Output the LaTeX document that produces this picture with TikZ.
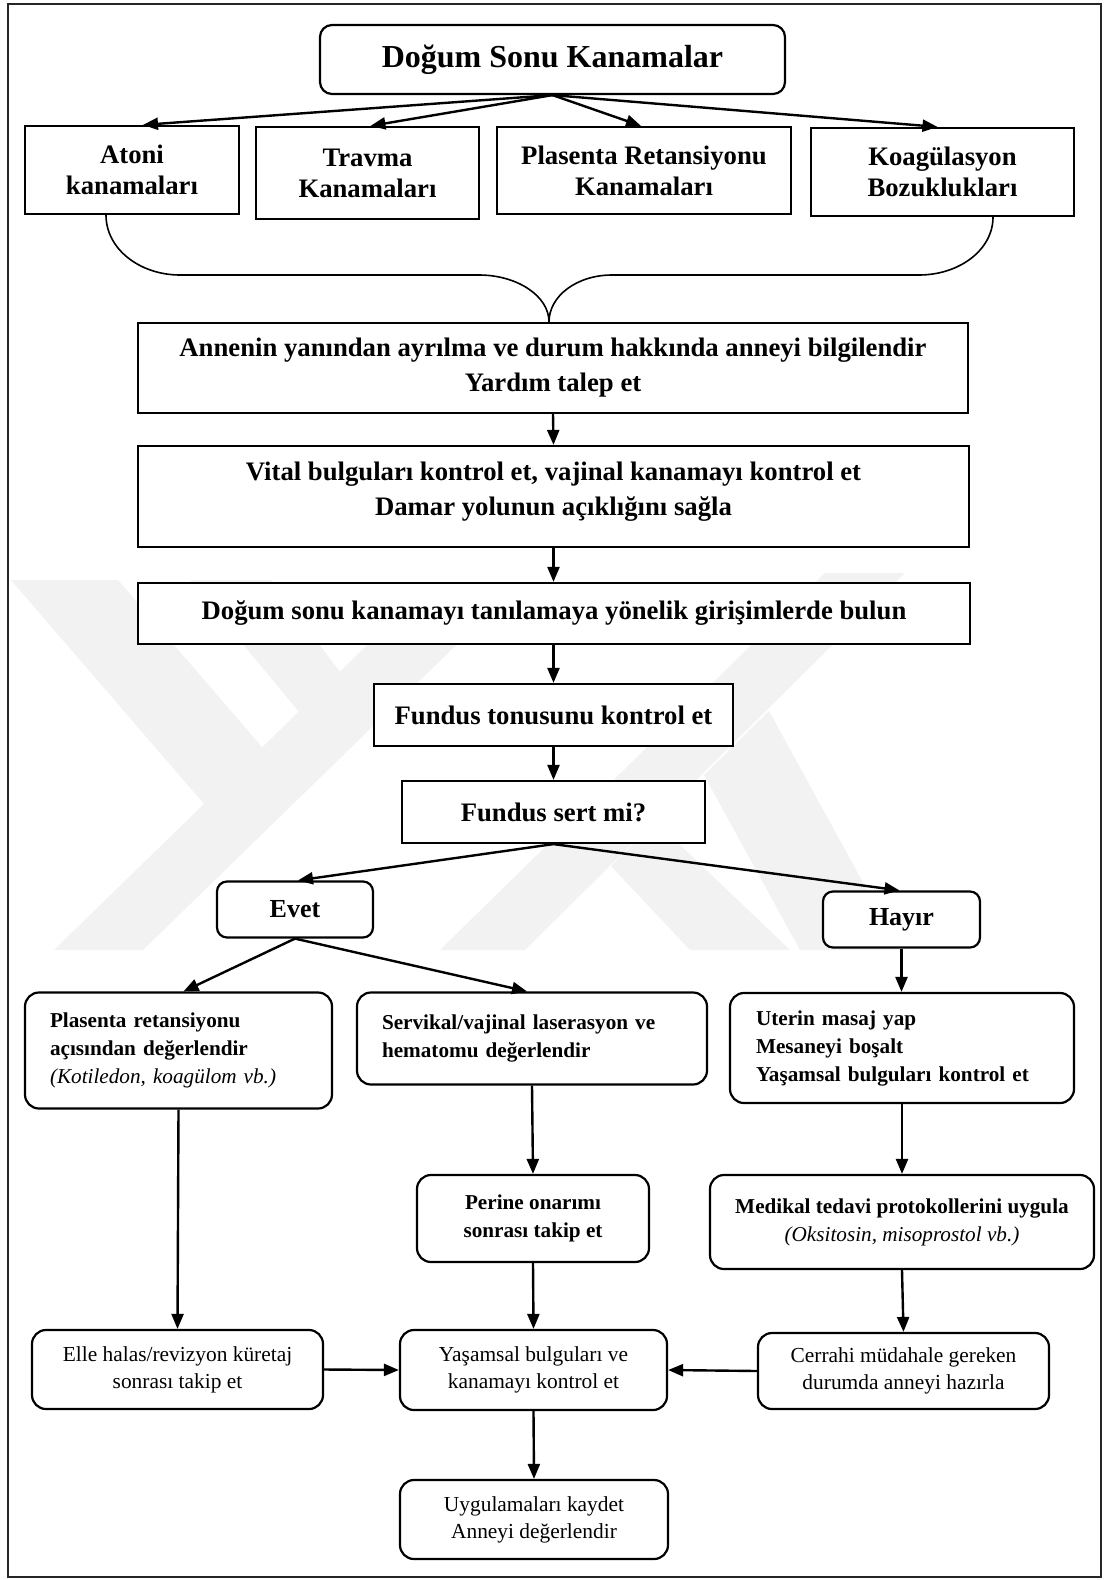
\documentclass[tikz,border=0pt]{standalone}
\usepackage{fontspec}
\setmainfont{Liberation Serif}
\usetikzlibrary{arrows.meta,calc}
\newcommand\FtTitle{\fontsize{32}{40}\selectfont\bfseries}
\newcommand\FtMain{\fontsize{26.7}{31}\selectfont\bfseries}
\newcommand\FtMainB{\fontsize{26.7}{35}\selectfont\bfseries}
\newcommand\FtYN{\fontsize{26}{31}\selectfont\bfseries}
\newcommand\FtSmall{\fontsize{21.2}{28}\selectfont\bfseries}
\newcommand\FtReg{\fontsize{21.4}{27}\selectfont}
\tikzset{
  box/.style={draw=black, fill=white, line width=2.2pt, inner sep=0pt, align=center},
  rbox/.style={box, rounded corners=14pt},
  ybox/.style={box, rounded corners=10pt},
  arr/.style={line width=2.4pt, -{Triangle[length=15pt,width=12pt]}},
  bracecurve/.style={line width=1.6pt},
  wmark/.style={fill=black!5, draw=none},
}
\begin{document}
\begin{tikzpicture}[x=1pt,y=-1pt]
\useasboundingbox (0,0) rectangle (1106,1580);
\fill[white] (0,0) rectangle (1106,1580);
% watermark (left figure)
\fill[wmark] (54,950) -- (143,950) -- (520,583) -- (431,583) -- cycle;
\fill[wmark] (11,580) -- (118,580) -- (262,747) -- (205,805) -- cycle;
\fill[wmark] (190,580) -- (271,580) -- (340,672) -- (299,712) -- cycle;
% watermark (right figure)
\fill[wmark] (440,950) -- (525,950) -- (905,573) -- (825,573) -- cycle;
\fill[wmark] (800,950) -- (900,950) -- (769,711) -- (704,775) -- cycle;
\fill[wmark] (690,950) -- (790,950) -- (656,822) -- (611,866) -- cycle;
% frame
\draw[line width=2pt, black!85] (8,4) rectangle (1101,1577);
% nodes
\node[box, rounded corners=12pt, minimum width=465pt, minimum height=69pt, font=\FtTitle] (top) at (552.5,59.5) {Doğum Sonu Kanamalar};
\node[box, minimum width=214pt, minimum height=88pt, font=\FtMain] (atoni) at (132,170) {Atoni\\kanamaları};
\node[box, minimum width=223pt, minimum height=92pt, font=\FtMain] (travma) at (367.5,173) {Travma\\Kanamaları};
\node[box, minimum width=294pt, minimum height=87pt, font=\FtMain] (plasenta) at (644,170.5) {Plasenta Retansiyonu\\Kanamaları};
\node[box, minimum width=263pt, minimum height=88pt, font=\FtMain] (koag) at (942.5,172) {Koagülasyon\\Bozuklukları};
\node[box, minimum width=830pt, minimum height=90pt, font=\FtMainB] (annenin) at (553,368) {Annenin yanından ayrılma ve durum hakkında anneyi bilgilendir\\Yardım talep et};
\node[box, minimum width=831pt, minimum height=101pt] (vital) at (553.5,496.5) {};
\node[font=\FtMainB, align=center] (vitaltxt) at ($(vital.center)+(0,-5)$) {Vital bulguları kontrol et, vajinal kanamayı kontrol et\\Damar yolunun açıklığını sağla};
\node[box, minimum width=832pt, minimum height=61pt, font=\FtMain] (dogum) at (554,613.5) {Doğum sonu kanamayı tanılamaya yönelik girişimlerde bulun};
\node[box, minimum width=359pt, minimum height=62pt, font=\FtMain] (ftonus) at (553.5,715) {Fundus tonusunu kontrol et};
\node[box, minimum width=303pt, minimum height=62pt, font=\FtMain] (fsert) at (553.5,812) {Fundus sert mi?};
\node[ybox, minimum width=156pt, minimum height=56pt, font=\FtYN] (evet) at (295,909.5) {Evet};
\node[ybox, minimum width=157pt, minimum height=56pt, font=\FtYN] (hayir) at (901.5,919.5) {Hayır};
\node[rbox, align=left, inner xsep=25pt, text width=257pt, minimum height=116pt, font=\FtSmall] (plret) at (178.5,1050.5) {Plasenta retansiyonu\\açısından değerlendir\\{\normalfont\itshape (Kotiledon, koagülom vb.)}};
\node[rbox, align=left, inner xsep=25pt, text width=300pt, minimum height=92pt, font=\FtSmall] (servikal) at (532,1038.5) {Servikal/vajinal laserasyon ve\\hematomu değerlendir};
\node[rbox, align=left, inner xsep=26pt, text width=292pt, minimum height=110pt, font=\FtSmall] (uterin) at (902,1048) {Uterin masaj yap\\Mesaneyi boşalt\\Yaşamsal bulguları kontrol et};
\node[rbox, minimum width=232pt, minimum height=87pt, font=\FtSmall] (perine) at (533,1218.5) {Perine onarımı\\sonrası takip et};
\node[rbox, minimum width=384pt, minimum height=94pt, font=\FtSmall] (medikal) at (902,1222) {Medikal tedavi protokollerini uygula\\{\normalfont\itshape (Oksitosin, misoprostol vb.)}};
\node[rbox, minimum width=291pt, minimum height=79pt, font=\FtReg] (elle) at (177.5,1369.5) {Elle halas/revizyon küretaj\\sonrası takip et};
\node[rbox, minimum width=267pt, minimum height=80pt, font=\FtReg] (yasam) at (533.5,1370) {Yaşamsal bulguları ve\\kanamayı kontrol et};
\node[rbox, minimum width=291pt, minimum height=76pt, font=\FtReg] (cerrahi) at (903.5,1371) {Cerrahi müdahale gereken\\durumda anneyi hazırla};
\node[rbox, minimum width=268pt, minimum height=79pt, font=\FtReg] (uygula) at (534,1519.5) {Uygulamaları kaydet\\Anneyi değerlendir};
% connectors top
\draw[arr] (top.south) -- ($(atoni.north)+(11,0)$);
\draw[arr] (top.south) -- ($(travma.north)+(3,0)$);
\draw[arr] (top.south) -- ($(plasenta.north)+(-3,0)$);
\draw[arr] (top.south) -- ($(koag.north)+(-5,0)$);
% brace curves
\draw[bracecurve] ($(atoni.south)+(-26,0)$) .. controls +(0,34) and +(-40,0) .. (180,275) -- (479,275) .. controls +(38,0) and +(0,-26) .. ($(annenin.north)+(-4,0)$);
\draw[bracecurve] ($(koag.south)+(50.5,0)$) .. controls +(0,33) and +(40,0) .. (919,275) -- (612,275) .. controls +(-35,0) and +(0,-26) .. ($(annenin.north)+(-4,0)$);
% main chain
\draw[arr] (annenin.south) -- (vital.north);
\draw[arr] (vital.south) -- (dogum.north -| vital.south);
\draw[arr] (dogum.south -| vital.south) -- (ftonus.north);
\draw[arr] (ftonus.south) -- (fsert.north);
\draw[arr] (fsert.south) -- ($(evet.north)+(3,0)$);
\draw[arr] (fsert.south) -- ($(hayir.north)+(-2,0)$);
\draw[arr] (evet.south) -- ($(plret.north)+(5,0)$);
\draw[arr] (evet.south) -- ($(servikal.north)+(-5,0)$);
\draw[arr] (hayir.south) -- (uterin.north -| hayir.south);
\draw[arr] (servikal.south) -- (perine.north);
\draw[arr] (uterin.south) -- (medikal.north);
\draw[arr] (plret.south) -- (elle.north);
\draw[arr] (perine.south) -- (yasam.north);
\draw[arr] (medikal.south) -- (cerrahi.north);
\draw[arr] (elle.east) -- (yasam.west);
\draw[arr] (cerrahi.west) -- (yasam.east);
\draw[arr] (yasam.south) -- (uygula.north);
\end{tikzpicture}
\end{document}
